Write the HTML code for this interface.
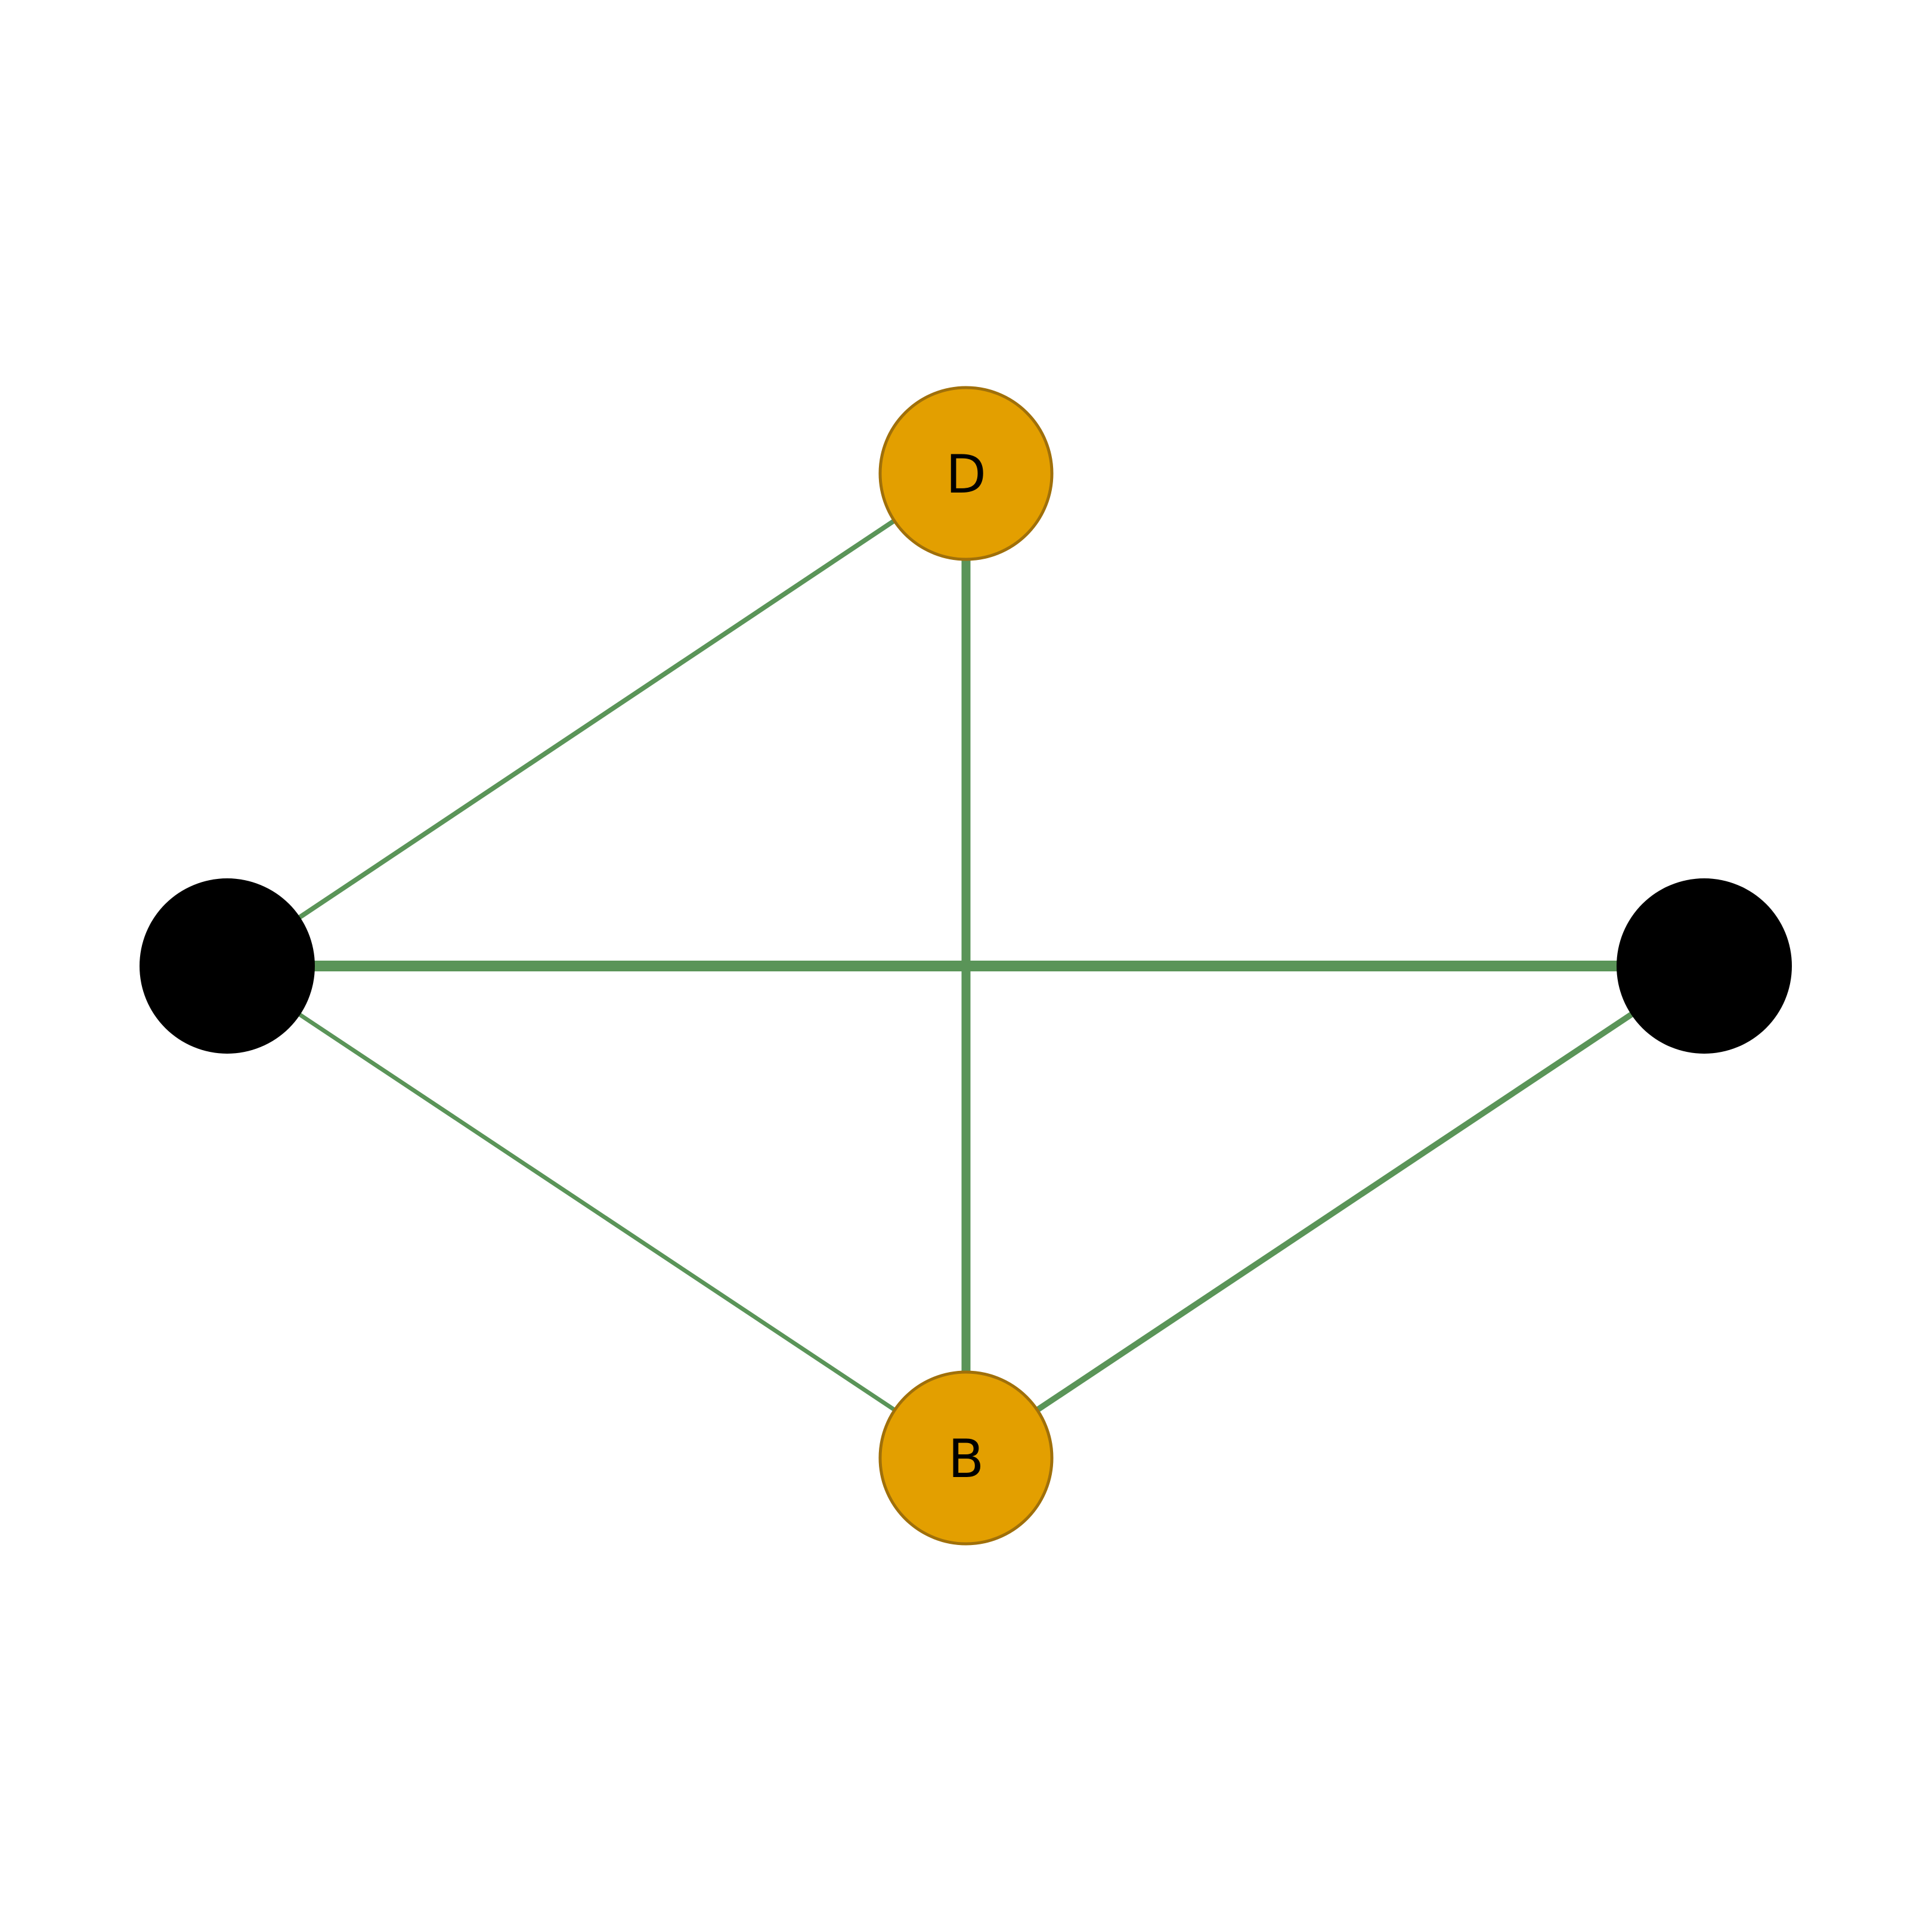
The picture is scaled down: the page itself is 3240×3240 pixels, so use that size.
<!DOCTYPE html>
<html><head><meta charset="utf-8"><style>html,body{margin:0;padding:0;background:#fff}svg{display:block}</style></head>
<body>
<svg width="3240" height="3240" viewBox="0 0 3240 3240" xmlns="http://www.w3.org/2000/svg">
<rect width="3240" height="3240" fill="#fff"/>
<g stroke="#5a9458" stroke-linecap="butt">
<line x1="380" y1="1620" x2="1620" y2="793" stroke-width="8"/>
<line x1="380" y1="1620" x2="1620" y2="2444" stroke-width="7"/>
<line x1="2858" y1="1620" x2="1620" y2="2444" stroke-width="10"/>
<line x1="1620" y1="793" x2="1620" y2="2444" stroke-width="15"/>
<line x1="380" y1="1620" x2="2858" y2="1620" stroke-width="18"/>
</g>
<circle cx="381" cy="1620" r="147" fill="#000"/>
<circle cx="2858" cy="1620" r="147" fill="#000"/>
<circle cx="1620" cy="794" r="144" fill="#e39f00" stroke="#a0700a" stroke-width="5"/>
<circle cx="1620" cy="2445" r="144" fill="#e39f00" stroke="#a0700a" stroke-width="5"/>
<g font-family="DejaVu Sans, Liberation Sans, sans-serif" font-size="88" text-anchor="middle" fill="#000">
<text x="1620" y="826">D</text>
<text x="1620" y="2477">B</text>
</g>
</svg>
</body></html>
